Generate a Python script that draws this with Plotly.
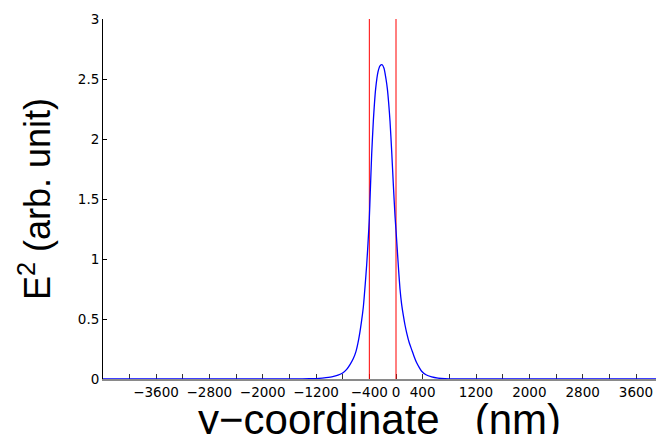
import plotly.graph_objects as go

# Field intensity profile across the structure (position in nm, E^2 in arbitrary units)
pos_nm = [-4400, -2400, -1800, -1500, -1300, -1150, -1050, -950, -870, -800,
          -740, -690, -640, -600, -560, -520, -490, -460, -440, -420,
          -400, -385, -365, -340, -305, -270, -240, -210, -180, -150,
          -130, -110, -90, -65, -40, -15, 0, 20, 40, 60,
          85, 110, 135, 160, 200, 235, 270, 310, 350, 385,
          450, 535, 630, 735, 900, 1200, 1800, 4400]
e2_vals = [0.0, 0.0, 0.0005, 0.001, 0.003, 0.006, 0.012, 0.02, 0.032, 0.05,
           0.08, 0.12, 0.17, 0.23, 0.33, 0.47, 0.6, 0.8, 0.95, 1.13,
           1.34, 1.57, 1.87, 2.15, 2.42, 2.56, 2.61, 2.62, 2.59, 2.5,
           2.42, 2.3, 2.15, 1.9, 1.62, 1.36, 1.24, 1.07, 0.9, 0.75,
           0.62, 0.53, 0.45, 0.385, 0.3, 0.245, 0.19, 0.135, 0.095, 0.065,
           0.035, 0.018, 0.008, 0.003, 0.001, 0.0003, 0.0, 0.0]

# Interface positions (nm)
boundaries = [-400, 0]
y_span = [0, 3]

# Axis ticks: a tick every 400 nm, labels on selected ones
tick_vals = list(range(-4000, 4001, 400))
labelled = [-3600, -2800, -2000, -1200, -400, 0, 400, 1200, 2000, 2800, 3600]
tick_text = [(("\u2212" + str(abs(v))) if v < 0 else str(v)) if v in labelled else ""
             for v in tick_vals]
y_tick_vals = [0, 0.5, 1, 1.5, 2, 2.5, 3]
y_tick_text = ["0", "0.5", "1", "1.5", "2", "2.5", "3"]

fig = go.Figure()

for b in boundaries:
    fig.add_trace(go.Scatter(x=[b, b], y=y_span, mode="lines",
                             line=dict(color="red", width=1),
                             hoverinfo="skip", showlegend=False))

fig.add_trace(go.Scatter(x=pos_nm, y=e2_vals, mode="lines",
                         line=dict(color="#0000ff", width=1.3, shape="spline", smoothing=0.6),
                         showlegend=False))

tick_font = dict(family="DejaVu Sans, sans-serif", size=13.5, color="black")
title_font = "Liberation Sans, Arial, sans-serif"

fig.update_layout(
    width=656, height=434,
    margin=dict(l=103, r=0, t=19, b=54.5, pad=0),
    paper_bgcolor="white", plot_bgcolor="white",
    showlegend=False,
    xaxis=dict(
        range=[-4395, 3900],
        tickmode="array", tickvals=tick_vals, ticktext=tick_text,
        ticks="inside", ticklen=5, tickwidth=1, tickcolor="#333",
        showline=True, linecolor="#8a8a8a", linewidth=2,
        showgrid=False, zeroline=False, layer="below traces",
        tickfont=tick_font,
    ),
    yaxis=dict(
        range=[0, 3],
        tickmode="array", tickvals=y_tick_vals, ticktext=y_tick_text,
        ticks="inside", ticklen=4, tickwidth=1, tickcolor="black",
        showline=True, linecolor="black", linewidth=1,
        showgrid=False, zeroline=False,
        tickfont=tick_font,
        title=dict(text="E<sup>2</sup> (arb. unit)",
                   font=dict(family=title_font, size=36, color="black"),
                   standoff=16),
    ),
    annotations=[dict(
        text="y\u2212coordinate\u00a0\u00a0\u00a0(nm)",
        xref="paper", yref="paper", x=0.5, y=-0.182,
        xanchor="center", yanchor="bottom", showarrow=False,
        font=dict(family=title_font, size=42, color="black"),
    )],
)

fig.write_html("out.html")
